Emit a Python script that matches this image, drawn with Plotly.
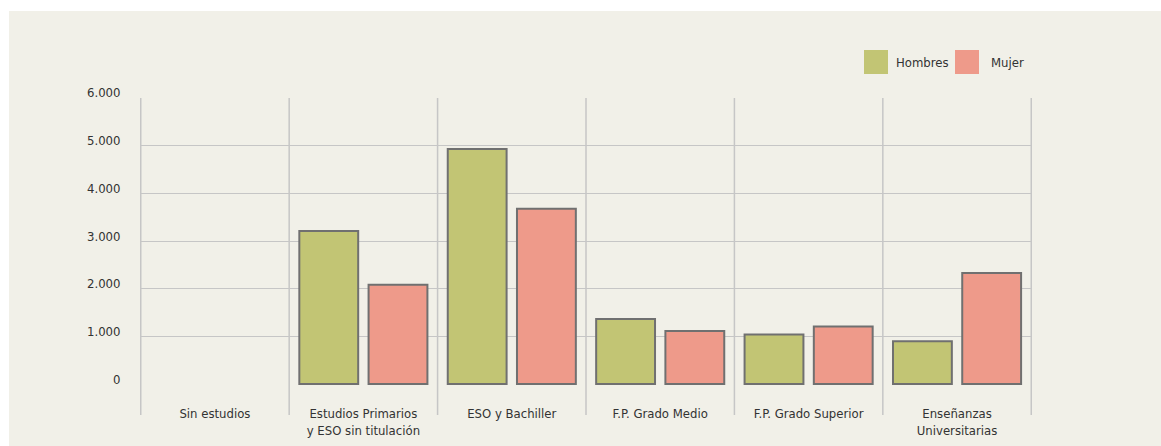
import plotly.graph_objects as go

categories = ["Sin estudios", "Estudios Primarios<br>y ESO sin titulación", "ESO y Bachiller",
              "F.P. Grado Medio", "F.P. Grado Superior", "Enseñanzas<br>Universitarias"]
hombres = [None, 3210, 4930, 1365, 1040, 900]
mujer = [None, 2080, 3675, 1115, 1205, 2330]
series_names = ["Hombres", "Mujer"]
y_tickvals = [0, 1000, 2000, 3000, 4000, 5000, 6000]
y_ticktext = ["0", "1.000", "2.000", "3.000", "4.000", "5.000", "6.000"]

GREEN = "#c2c574"
PINK = "#ee9a8a"
BG = "#f1f0e8"
GRID = "#c6c6c6"
EDGE = "#707070"
TXT = "#333333"
FONT = "DejaVu Sans Condensed, Liberation Sans Narrow, Arial Narrow, sans-serif"
FS = 13

W, H = 1161, 446
L, R, T, B = 140, 129, 97, 61
pw, ph = W - L - R, H - T - B

def px_x(p):
    return (p - L) / pw

def px_y(p):
    return (H - B - p) / ph

fig = go.Figure()
for name, vals, col in zip(series_names, [hombres, mujer], [GREEN, PINK]):
    fig.add_trace(go.Bar(x=categories, y=vals, name=name,
                         marker=dict(color=col, line=dict(color=EDGE, width=2)),
                         showlegend=False))

shapes = []
# beige background panel
shapes.append(dict(type="rect", xref="paper", yref="paper", x0=px_x(9), x1=px_x(W + 5), y0=px_y(H + 5), y1=px_y(11),
                   fillcolor=BG, line=dict(width=0), layer="below"))
# category boundary lines (full height, extending below the axis)
for i in range(len(categories) + 1):
    shapes.append(dict(type="line", xref="x", yref="paper", x0=i - 0.5, x1=i - 0.5, y0=px_y(415), y1=px_y(98),
                       line=dict(color=GRID, width=1.5), layer="below"))

annotations = []
# y tick labels, sitting slightly above their gridlines
for v, t in zip(y_tickvals, y_ticktext):
    annotations.append(dict(xref="paper", yref="y", x=px_x(122), y=v, yshift=5, text=t, showarrow=False,
                            xanchor="right", yanchor="middle", font=dict(family=FONT, size=FS, color=TXT)))
# legend
leg = [(series_names[0], GREEN, 864, 894), (series_names[1], PINK, 955, 989)]
for name, col, sx, tx in leg:
    shapes.append(dict(type="rect", xref="paper", yref="paper", x0=px_x(sx), x1=px_x(sx + 24),
                       y0=px_y(74), y1=px_y(50), fillcolor=col, line=dict(width=0)))
    annotations.append(dict(xref="paper", yref="paper", x=px_x(tx), y=px_y(62), text=name, showarrow=False,
                            xanchor="left", yanchor="middle", font=dict(family=FONT, size=FS, color=TXT)))

fig.update_layout(
    width=W, height=H,
    margin=dict(l=L, r=R, t=T, b=B, pad=0, autoexpand=False),
    paper_bgcolor="white",
    plot_bgcolor="rgba(0,0,0,0)",
    barmode="group",
    bargap=0.067,
    bargroupgap=0.15,
    font=dict(family=FONT, size=FS, color=TXT),
    shapes=shapes,
    annotations=annotations,
    xaxis=dict(type="category", showgrid=False, ticks="", showline=False, zeroline=False, automargin=False,
               ticklabelstandoff=19, tickfont=dict(family=FONT, size=FS, color=TXT)),
    yaxis=dict(range=[-20, 6020], tickvals=y_tickvals, showticklabels=False, showgrid=True, gridcolor=GRID,
               gridwidth=1, zeroline=False, showline=False, ticks="", automargin=False),
)

fig.write_html("out.html", config={"displayModeBar": False},
               post_script="document.body.style.margin='0';")
